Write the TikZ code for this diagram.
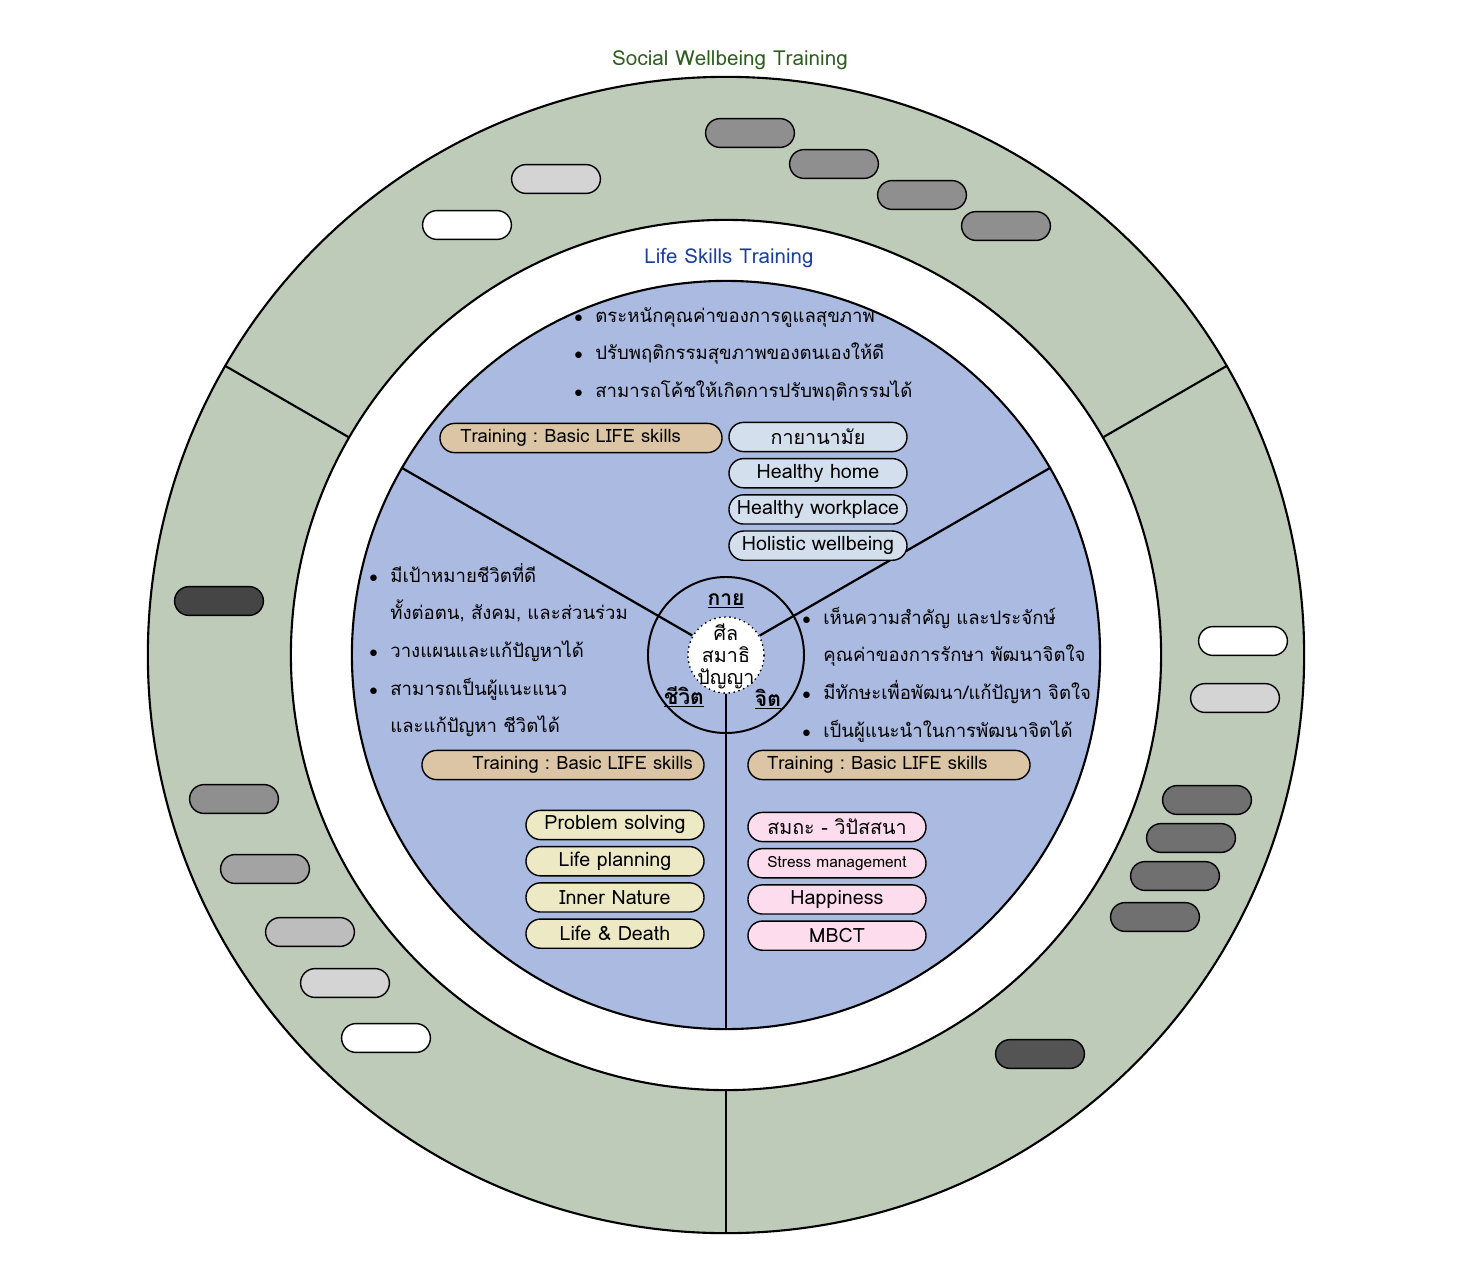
\documentclass[tikz,border=0pt]{standalone}
\usepackage{fontspec}
\setmainfont{Loma}[Script=Thai]
\usepackage{xcolor}
\usetikzlibrary{shapes,positioning}
\definecolor{ringgreen}{HTML}{BECBB9}
\definecolor{coreblue}{HTML}{AABAE0}
\definecolor{trainbeige}{HTML}{DCC5A4}
\definecolor{bodyblue}{HTML}{D3DFEC}
\definecolor{lifecream}{HTML}{EDE9C4}
\definecolor{mindpink}{HTML}{FDDCEE}
\definecolor{socialgreen}{HTML}{2F5F1F}
\definecolor{skillblue}{HTML}{1A3FA3}
\newcommand{\bulletmark}{\makebox[15pt][l]{$\bullet$}}
\newcommand{\bulletgap}{\hphantom{\bulletmark}}
\frenchspacing

\begin{document}
\begin{tikzpicture}[x=0.025cm, y=0.025cm, node distance=0.14cm,
    slot/.style={rounded rectangle, draw, line width=1pt, minimum width=2.22cm, minimum height=0.72cm, inner sep=0pt},
    pill/.style={rounded rectangle, draw, line width=1pt, minimum width=4.45cm, minimum height=0.73cm, inner sep=0pt, font=\fontsize{14}{16}\selectfont},
    train/.style={pill, fill=trainbeige, minimum width=7.05cm, font=\fontsize{13.1}{16}\selectfont},
    bullets/.style={align=left, anchor=north west, inner sep=0pt, font=\fontsize{13.2}{26.7}\selectfont},
    aspect/.style={font=\fontsize{15}{17}\selectfont\bfseries, inner sep=1pt}]
    \useasboundingbox (-726,-610) rectangle (740,655);

    \node[circle, draw, line width=1.5pt, fill=ringgreen, minimum size=28.9cm] (outer) at (0,0) {};
    \node[circle, draw, line width=1.5pt, fill=white, minimum size=21.75cm] (gap) at (0,0) {};
    \node[circle, draw, line width=1.5pt, fill=coreblue, minimum size=18.7cm] (core) at (0,0) {};

    \node[font=\fontsize{14.7}{16}\selectfont, text=socialgreen] (social) at (4,595) {Social Wellbeing Training};
    \node[font=\fontsize{14.6}{16}\selectfont, text=skillblue] (skills) at (3,397) {Life Skills Training};

    \draw[line width=1.5pt] (gap.150) -- (outer.150);
    \draw[line width=1.5pt] (gap.30) -- (outer.30);
    \draw[line width=1.5pt] (gap.270) -- (outer.270);

    \node[slot, fill=black!44] (t1) at (24,522) {};
    \node[slot, fill=black!44] (t2) at (108,491) {};
    \node[slot, fill=black!44] (t3) at (196,460) {};
    \node[slot, fill=black!44] (t4) at (280,429) {};
    \node[slot, fill=black!17] (t5) at (-170,476) {};
    \node[slot, fill=white] (t6) at (-259,430) {};
    \node[slot, fill=black!73] (l1) at (-507,54) {};
    \node[slot, fill=black!44] (l2) at (-492,-144) {};
    \node[slot, fill=black!36] (l3) at (-461,-214) {};
    \node[slot, fill=black!26] (l4) at (-416,-277) {};
    \node[slot, fill=black!17] (l5) at (-381,-328) {};
    \node[slot, fill=white] (l6) at (-340,-383) {};
    \node[slot, fill=white] (r1) at (517,14) {};
    \node[slot, fill=black!17] (r2) at (509,-43) {};
    \node[slot, fill=black!56] (r3) at (481,-145) {};
    \node[slot, fill=black!56] (r4) at (465,-183) {};
    \node[slot, fill=black!56] (r5) at (449,-221) {};
    \node[slot, fill=black!56] (r6) at (429,-262) {};
    \node[slot, fill=black!67] (b1) at (314,-399) {};

    \node[circle, draw, line width=1.4pt, dash pattern=on 0pt off 3.6pt, line cap=round, fill=white, minimum size=1.9cm] (seed) at (0,0) {};
    \draw[line width=1.6pt] (seed.150) -- (core.150);
    \draw[line width=1.6pt] (seed.30) -- (core.30);
    \draw[line width=1.6pt] (seed.270) -- (core.270);
    \node[circle, draw, line width=1.4pt, minimum size=3.9cm] (hub) at (0,0) {};
    \node[align=center, font=\fontsize{14}{15.6}\selectfont] (triad) at (0,-1) {ศีล\\สมาธิ\\ปัญญา};
    \node[aspect] (body) at (0,54) {\underline{กาย}};
    \node[aspect] (life) at (-42,-42) {\underline{ชีวิต}};
    \node[aspect] (mind) at (42,-44) {\underline{จิต}};

    \node[bullets] (bodylist) at (-152,348) {\bulletmark ตระหนักคุณค่าของการดูแลสุขภาพ\\ \bulletmark ปรับพฤติกรรมสุขภาพของตนเองให้ดี\\ \bulletmark สามารถโค้ชให้เกิดการปรับพฤติกรรมได้};
    \node[bullets] (lifelist) at (-357,92) {\bulletmark มีเป้าหมายชีวิตที่ดี\\ \bulletgap ทั้งต่อตน, สังคม, และส่วนร่วม\\ \bulletmark วางแผนและแก้ปัญหาได้\\ \bulletmark สามารถเป็นผู้แนะแนว\\ \bulletgap และแก้ปัญหา ชีวิตได้};
    \node[bullets] (mindlist) at (76,48) {\bulletmark เห็นความสำคัญ และประจักษ์\\ \bulletgap คุณค่าของการรักษา พัฒนาจิตใจ\\ \bulletmark มีทักษะเพื่อพัฒนา/แก้ปัญหา จิตใจ\\ \bulletmark เป็นผู้แนะนำในการพัฒนาจิตได้};

    \node[train] (bodytrain) at (-145,217) {Training : Basic LIFE skills\kern0.52cm};
    \node[pill, fill=bodyblue] (exercise) at (92,218) {กายานามัย};
    \node[pill, fill=bodyblue, below=of exercise] (home) {Healthy home};
    \node[pill, fill=bodyblue, below=of home] (workplace) {Healthy workplace};
    \node[pill, fill=bodyblue, below=of workplace] (holistic) {Holistic wellbeing};

    \node[train] (lifetrain) at (-163,-110) {\kern0.98cm Training : Basic LIFE skills};
    \node[pill, fill=lifecream] (problem) at (-111,-170) {Problem solving};
    \node[pill, fill=lifecream, below=of problem] (planning) {Life planning};
    \node[pill, fill=lifecream, below=of planning] (nature) {Inner Nature};
    \node[pill, fill=lifecream, below=of nature] (death) {Life \& Death};

    \node[train] (mindtrain) at (163,-110) {Training : Basic LIFE skills\kern0.58cm};
    \node[pill, fill=mindpink] (meditation) at (111,-172) {สมถะ - วิปัสสนา};
    \node[pill, fill=mindpink, below=of meditation, font=\fontsize{11}{13}\selectfont] (stress) {Stress management};
    \node[pill, fill=mindpink, below=of stress] (happiness) {Happiness};
    \node[pill, fill=mindpink, below=of happiness] (mbct) {MBCT};
\end{tikzpicture}
\end{document}
